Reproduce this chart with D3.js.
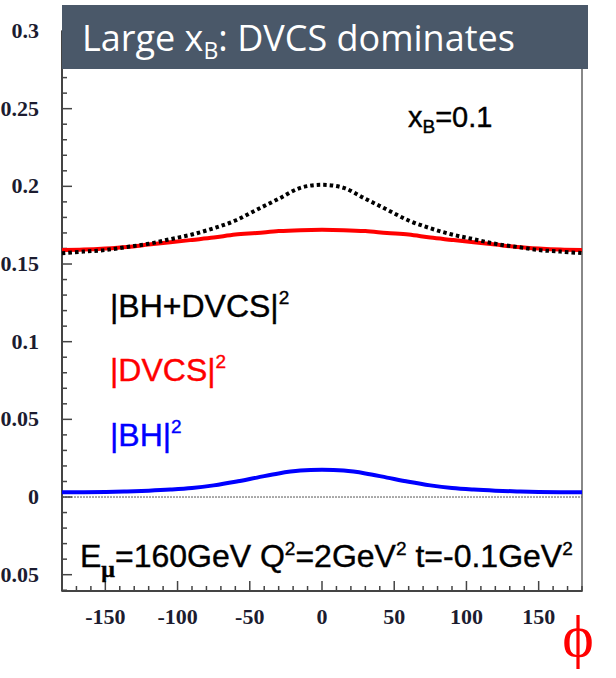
<!DOCTYPE html>
<html>
<head>
<meta charset="utf-8">
<script src="https://cdn.jsdelivr.net/npm/d3@7"></script>
<style>
  body { margin: 0; background: #fff; }
  svg { display: block; }
</style>
</head>
<body>
<div class="chart"></div>
<script>
// phi in degrees, cross sections
const phi = [-180, -165, -150, -135, -120, -105, -90, -75, -60, -45, -30, -15, 0,
             15, 30, 45, 60, 75, 90, 105, 120, 135, 150, 165, 180];
const bhDvcs = [0.157, 0.158, 0.159, 0.161, 0.163, 0.166, 0.169, 0.173, 0.178, 0.185, 0.192, 0.199, 0.201,
                0.199, 0.192, 0.185, 0.178, 0.173, 0.169, 0.166, 0.163, 0.161, 0.159, 0.158, 0.157];
const dvcs = [0.159, 0.1593, 0.160, 0.161, 0.1625, 0.164, 0.1655, 0.167, 0.169, 0.170, 0.1712, 0.1718, 0.172,
              0.1718, 0.1712, 0.170, 0.169, 0.167, 0.1655, 0.164, 0.1625, 0.161, 0.160, 0.1593, 0.159];
const bh = [0.0030, 0.0031, 0.0033, 0.0036, 0.0041, 0.0048, 0.0058, 0.0075, 0.0098, 0.0125, 0.0152, 0.0170, 0.0175,
            0.0170, 0.0152, 0.0125, 0.0098, 0.0075, 0.0058, 0.0048, 0.0041, 0.0036, 0.0033, 0.0031, 0.0030];

const xTicks = [-150, -100, -50, 0, 50, 100, 150];
const yTicks = [-0.05, 0, 0.05, 0.1, 0.15, 0.2, 0.25, 0.3];
const yTickLabels = ["0.05", "0", "0.05", "0.1", "0.15", "0.2", "0.25", "0.3"]; // leading minus cut off in the picture

const w = 616;
const h = 678;
const plotL = 62, plotR = 582, plotT = 31, plotB = 591;

const xScale = d3.scaleLinear().domain([-180, 180]).range([plotL, plotR]);
const yScale = d3.scaleLinear().domain([-0.0605, 0.3]).range([plotB, plotT]);

const svg = d3.select(".chart")
  .append("svg")
  .attr("width", w)
  .attr("height", h);

// frame
svg.append("rect")
  .attr("x", plotL).attr("y", plotT)
  .attr("width", plotR - plotL).attr("height", plotB - plotT)
  .attr("fill", "none")
  .attr("stroke", "#888")
  .attr("stroke-width", 2);

// zero line
svg.append("line")
  .attr("x1", plotL).attr("x2", plotR)
  .attr("y1", yScale(0)).attr("y2", yScale(0))
  .attr("stroke", "#555")
  .attr("stroke-width", 1)
  .attr("stroke-dasharray", "2,1");

// inward ticks
const xMinor = d3.range(-180, 181, 10);
svg.append("g").selectAll("line")
  .data(xMinor)
  .enter().append("line")
  .attr("x1", d => xScale(d)).attr("x2", d => xScale(d))
  .attr("y1", plotB)
  .attr("y2", d => plotB - (d % 50 === 0 ? 10 : 5))
  .attr("stroke", "#444").attr("stroke-width", 1.5);

const yMinor = d3.range(-6, 31, 1).map(d => d / 100);
svg.append("g").selectAll("line")
  .data(yMinor)
  .enter().append("line")
  .attr("x1", plotL)
  .attr("x2", (d, i) => plotL + ((i - 6) % 5 === 0 ? 10 : 5))
  .attr("y1", d => yScale(d)).attr("y2", d => yScale(d))
  .attr("stroke", "#444").attr("stroke-width", 1.5);

// axis lines
svg.append("line")
  .attr("x1", plotL).attr("x2", plotL).attr("y1", plotT).attr("y2", plotB)
  .attr("stroke", "#444").attr("stroke-width", 2);
svg.append("line")
  .attr("x1", plotL).attr("x2", plotR).attr("y1", plotB).attr("y2", plotB)
  .attr("stroke", "#444").attr("stroke-width", 2);

// tick labels
svg.append("g").selectAll("text")
  .data(xTicks)
  .enter().append("text")
  .attr("x", d => xScale(d))
  .attr("y", 624)
  .attr("text-anchor", "middle")
  .attr("font-family", "Liberation Serif, serif")
  .attr("font-weight", "bold")
  .attr("font-size", 22)
  .attr("fill", "#1c1c30")
  .text(d => d);

svg.append("g").selectAll("text")
  .data(yTicks)
  .enter().append("text")
  .attr("x", 39)
  .attr("y", d => yScale(d) + 7)
  .attr("text-anchor", "end")
  .attr("font-family", "Liberation Serif, serif")
  .attr("font-weight", "bold")
  .attr("font-size", 22)
  .attr("fill", "#1c1c30")
  .text((d, i) => yTickLabels[i]);

// curves
const line = d3.line()
  .x(d => xScale(d[0]))
  .y(d => yScale(d[1]))
  .curve(d3.curveCatmullRom);

svg.append("path")
  .attr("d", line(d3.zip(phi, bh)))
  .attr("fill", "none").attr("stroke", "#0000ff").attr("stroke-width", 4);

svg.append("path")
  .attr("d", line(d3.zip(phi, dvcs)))
  .attr("fill", "none").attr("stroke", "#ff0000").attr("stroke-width", 4);

svg.append("path")
  .attr("d", line(d3.zip(phi, bhDvcs)))
  .attr("fill", "none").attr("stroke", "#000").attr("stroke-width", 4)
  .attr("stroke-dasharray", "3.5,3");

// legend
const legendItems = [
  { label: "|BH+DVCS|", color: "#000", y: 317 },
  { label: "|DVCS|", color: "#ff0000", y: 381 },
  { label: "|BH|", color: "#0000ff", y: 446 }
];
const leg = svg.append("g").selectAll("text")
  .data(legendItems)
  .enter().append("text")
  .attr("x", 110)
  .attr("y", d => d.y)
  .attr("font-family", "Liberation Sans, Arial, sans-serif")
  .attr("font-size", 32)
  .attr("fill", d => d.color)
  .attr("stroke", d => d.color)
  .attr("stroke-width", 0.4);
leg.append("tspan").text(d => d.label);
leg.append("tspan").attr("font-size", 19).attr("dy", -13).text("2");

// x_B label
const xb = svg.append("text")
  .attr("x", 408).attr("y", 127)
  .attr("font-family", "Liberation Sans, Arial, sans-serif")
  .attr("font-size", 29)
  .attr("fill", "#000")
  .attr("stroke", "#000")
  .attr("stroke-width", 0.4);
xb.append("tspan").text("x");
xb.append("tspan").attr("font-size", 19).attr("dy", 6).text("B");
xb.append("tspan").attr("dy", -6).text("=0.1");

// kinematics
const kin = svg.append("text")
  .attr("x", 80).attr("y", 567)
  .attr("font-family", "Liberation Sans, Arial, sans-serif")
  .attr("font-size", 32)
  .attr("fill", "#000")
  .attr("stroke", "#000")
  .attr("stroke-width", 0.4);
kin.append("tspan").text("E");
kin.append("tspan").attr("font-family", "Liberation Serif, serif").attr("font-weight", "bold")
  .attr("font-size", 24).attr("dy", 10).text("μ");
kin.append("tspan").attr("dy", -10).text("=160GeV Q");
kin.append("tspan").attr("font-size", 19).attr("dy", -12).text("2");
kin.append("tspan").attr("dy", 12).text("=2GeV");
kin.append("tspan").attr("font-size", 19).attr("dy", -12).text("2");
kin.append("tspan").attr("dy", 12).text(" t=-0.1GeV");
kin.append("tspan").attr("font-size", 19).attr("dy", -12).text("2");

// phi axis title
svg.append("text")
  .attr("x", 578).attr("y", 656)
  .attr("text-anchor", "middle")
  .attr("font-family", "Liberation Serif, serif")
  .attr("font-size", 60)
  .attr("fill", "#ff0000")
  .text("ϕ");

// slide title box
svg.append("rect")
  .attr("x", 62).attr("y", 5)
  .attr("width", 526).attr("height", 64)
  .attr("fill", "#4a5869");
const title = svg.append("text")
  .attr("x", 82).attr("y", 51)
  .attr("font-family", "Open Sans, sans-serif")
  .attr("font-size", 36)
  .attr("fill", "#fff");
title.append("tspan").text("Large x");
title.append("tspan").attr("font-size", 23).attr("dy", 8).text("B");
title.append("tspan").attr("dy", -8).text(": DVCS dominates");
</script>
</body>
</html>
